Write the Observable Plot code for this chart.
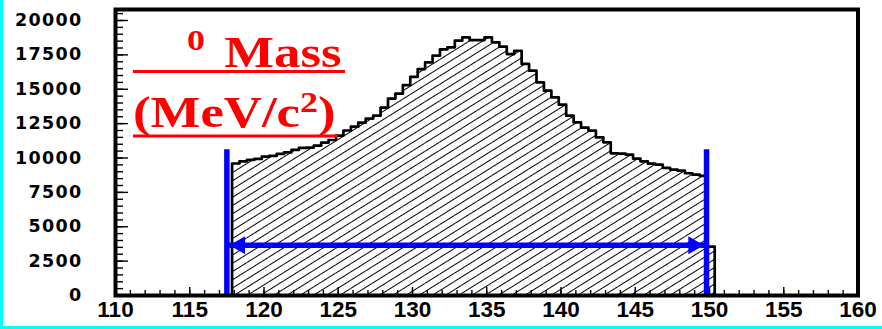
<!DOCTYPE html>
<html>
<head>
<meta charset="utf-8">
<script src="https://cdn.jsdelivr.net/npm/d3@7"></script>
<script src="https://cdn.jsdelivr.net/npm/@observablehq/plot@0.6"></script>
<style>
  html, body { margin: 0; padding: 0; background: #fff; }
  #wrap { position: relative; width: 882px; height: 329px; }
  #wrap svg.chart { display: block; }
  #edge { position: absolute; left: 0; top: 0; width: 882px; height: 329px; box-sizing: border-box;
          border-left: 3px solid #00ffff; border-bottom: 3px solid #00ffff; pointer-events: none; }
  g.y-labels text { letter-spacing: 1.3px; }
  g.mass-title text { text-anchor: start; }
</style>
</head>
<body>
<svg width="0" height="0" style="position:absolute">
  <defs>
    <pattern id="hatch" patternUnits="userSpaceOnUse" width="7" height="7" patternTransform="rotate(-32)">
      <line x1="0" y1="3.5" x2="7" y2="3.5" stroke="#000" stroke-width="1"></line>
    </pattern>
  </defs>
</svg>
<div id="wrap"><div id="edge"></div></div>
<script>
// Two-photon invariant mass, 0.5 MeV/c² bins starting at binLow
const binLow = 117.85;
const binWidth = 0.5;
const counts = [
  9600, 9760, 9860, 9930, 10100, 10150, 10300, 10410, 10590, 10730,
  10760, 10900, 11120, 11310, 11630, 12000, 12280, 12570, 12860, 13080,
  13660, 14320, 14680, 15300, 15900, 16470, 16950, 17440, 17900, 18050,
  18530, 18770, 18580, 18580, 18770, 18410, 18100, 17560, 17800, 16840,
  16350, 15500, 14900, 14410, 13880, 13080, 12590, 12210, 11990, 11500,
  11140, 10340, 10320, 10250, 9960, 9760, 9590, 9520, 9280, 9160,
  9080, 8890, 8790, 8700, 3560
];

// Mass window of the selection
const cutLow = 117.5;
const cutHigh = 149.8;
const cutMarkerTop = 10600;
const arrowLevel = 3650;

// Axis ticks
const xMajor = [110, 115, 120, 125, 130, 135, 140, 145, 150, 155, 160];
const xMinor = d3.range(110, 161, 1);
const yMajor = [0, 2500, 5000, 7500, 10000, 12500, 15000, 17500, 20000];
const yMinor = d3.range(0, 20801, 500);

const bins = counts.map((c, i) => ({x1: binLow + i * binWidth, x2: binLow + (i + 1) * binWidth, count: c}));
const last = bins[bins.length - 1];
const outline = [
  {x: binLow, y: 0},
  ...bins.map(b => ({x: b.x1, y: b.count})),
  {x: last.x2, y: last.count},
  {x: last.x2, y: 0}
];

const blue = "#0000ff";
const tickOnly = () => "";

const chart = Plot.plot({
  width: 882,
  height: 329,
  marginLeft: 115,
  marginRight: 24.5,
  marginTop: 9,
  marginBottom: 34,
  x: {domain: [110, 160]},
  y: {domain: [0, 20800]},
  style: {background: "white", color: "black"},
  marks: [
    Plot.rectY(bins, {x1: "x1", x2: "x2", y: "count", fill: "url(#hatch)"}),
    Plot.line(outline, {x: "x", y: "y", curve: "step-after", stroke: "black", strokeWidth: 2.7}),

    // inward ticks
    Plot.axisY({ticks: yMinor, tickSize: -8, tickFormat: tickOnly, strokeWidth: 1.4, label: null}),
    Plot.axisY({ticks: yMajor, tickSize: -13, tickFormat: tickOnly, strokeWidth: 1.4, label: null}),
    Plot.axisX({ticks: xMinor, tickSize: -5, tickFormat: tickOnly, strokeWidth: 1.4, label: null}),
    Plot.axisX({ticks: xMajor, tickSize: -8, tickFormat: tickOnly, strokeWidth: 1.4, label: null}),

    // tick labels
    Plot.text(yMajor, {y: d => d, text: d => String(d), frameAnchor: "left", textAnchor: "end",
                dx: -33, fontSize: 17.5, fontFamily: "DejaVu Sans", fontWeight: "bold",
                fill: "black", className: "y-labels"}),
    Plot.text(xMajor, {x: d => d, text: d => String(d), frameAnchor: "bottom", lineAnchor: "top",
                dy: 6, fontSize: 22.5, fontFamily: "Liberation Sans", fontWeight: "bold", fill: "black"}),

    Plot.ruleX([cutLow, cutHigh], {y1: 0, y2: cutMarkerTop, stroke: blue, strokeWidth: 5.5}),
    Plot.ruleY([arrowLevel], {x1: cutLow, x2: cutHigh, stroke: blue, strokeWidth: 5.5}),
    Plot.dot([{x: cutHigh, y: arrowLevel}], {x: "x", y: "y", symbol: "triangle", r: 6.7,
                fill: blue, stroke: null, rotate: 90, dx: -13}),
    Plot.dot([{x: cutLow, y: arrowLevel}], {x: "x", y: "y", symbol: "triangle", r: 6.7,
                fill: blue, stroke: null, rotate: -90, dx: 13}),

    Plot.frame({stroke: "black", strokeWidth: 4})
  ]
});
chart.classList.add("chart");

// In-frame red title: "⁰ Mass / (MeV/c²)"
const svg = d3.select(chart);
const title = svg.append("g")
  .attr("class", "mass-title")
  .attr("fill", "#ff0000")
  .attr("text-anchor", "start")
  .attr("font-family", "'Liberation Serif', 'Times New Roman', serif")
  .attr("font-weight", "bold");
const words = title.append("g").attr("transform", "translate(133,0) scale(1.2,1)");
words.append("text").attr("x", 45).attr("y", 50).attr("font-size", 30).text("0");
words.append("text").attr("x", 76).attr("y", 67).attr("font-size", 44).text("Mass");
const unit = words.append("text").attr("x", 0).attr("y", 127).attr("font-size", 44);
unit.append("tspan").text("(MeV/c");
unit.append("tspan").attr("font-size", 30).attr("dy", -15).text("2");
unit.append("tspan").attr("dy", 15).text(")");
title.append("line").attr("x1", 133).attr("x2", 345).attr("y1", 71.5).attr("y2", 71.5)
  .attr("stroke", "#ff0000").attr("stroke-width", 3);
title.append("line").attr("x1", 133).attr("x2", 338).attr("y1", 136).attr("y2", 136)
  .attr("stroke", "#ff0000").attr("stroke-width", 3);

document.getElementById("wrap").prepend(chart);
</script>
</body>
</html>
